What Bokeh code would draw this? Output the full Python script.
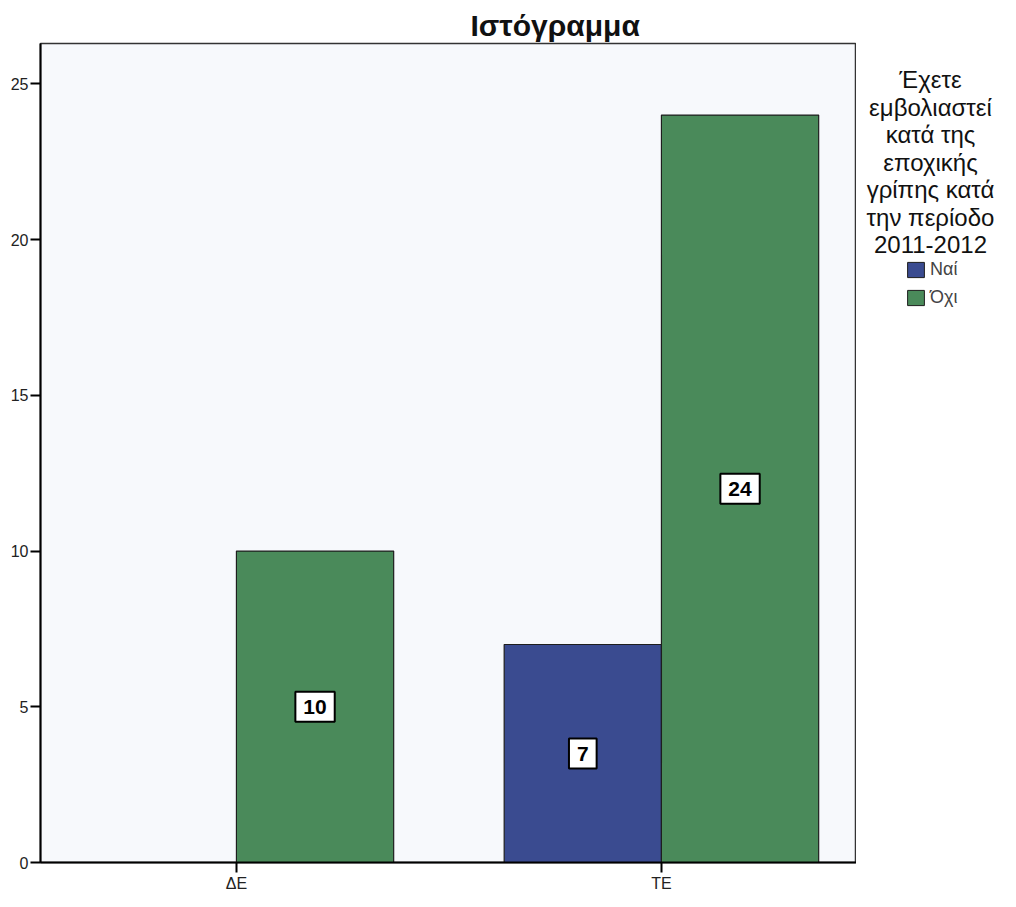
from bokeh.plotting import figure
from bokeh.layouts import row
from bokeh.models import (ColumnDataSource, Label, Legend, LegendItem, Plot, VBar,
                          FixedTicker, Range1d, Title)
from bokeh.transform import dodge
from bokeh.embed import file_html
from bokeh.resources import INLINE

# ---- data ----
categories = ["ΔΕ", "ΤΕ"]
series = ["Ναί", "Όχι"]
nai = [0, 7]
oxi = [10, 24]
y_ticks = [0, 5, 10, 15, 20, 25]
title_text = "Ιστόγραμμα"
legend_title_lines = ["Έχετε", "εμβολιαστεί", "κατά της", "εποχικής",
                      "γρίπης κατά", "την περίοδο", "2011-2012"]

# ---- style ----
colors = ["#3a4b90", "#4a8a5a"]
FONT = "Liberation Sans"
BAR_W = 0.37

# frame geometry (page pixels)
FRAME_L, FRAME_R, FRAME_T, FRAME_B = 48, 864, 51, 870
X_START, X_END = -0.461, 1.459
Y_START, Y_END = 0, 26.3
TOTAL_H = 898
SIDE_W = 144
MB_TOP = FRAME_T - 8
MB_BOTTOM = TOTAL_H - (FRAME_B - 8)

idx = list(range(len(categories)))
src = ColumnDataSource(dict(x=idx, nai=nai, oxi=oxi))

p = figure(frame_width=FRAME_R - FRAME_L, frame_height=FRAME_B - FRAME_T,
           x_range=Range1d(X_START, X_END), y_range=Range1d(Y_START, Y_END),
           output_backend="svg", toolbar_location=None,
           min_border_left=FRAME_L - 8, min_border_top=MB_TOP,
           min_border_right=0, min_border_bottom=MB_BOTTOM,
           background_fill_color="#f7f9fc", border_fill_color="white")
p.outline_line_color = "#333333"
p.outline_line_width = 1.5
p.grid.visible = False

p.title = Title(text=title_text, align="left", offset=478 - FRAME_L,
                text_font=FONT, text_font_size="30px", text_font_style="bold",
                text_color="#111111", standoff=3)

r_nai = p.vbar(x=dodge("x", -BAR_W / 2), top="nai", bottom=0, width=BAR_W, source=src,
               fill_color=colors[0], line_color="#1e1e1e", line_width=1.2)
r_oxi = p.vbar(x=dodge("x", BAR_W / 2), top="oxi", bottom=0, width=BAR_W, source=src,
               fill_color=colors[1], line_color="#1e1e1e", line_width=1.2)

# value labels in white boxes
for vals, off in ((nai, -BAR_W / 2), (oxi, BAR_W / 2)):
    for i, v in zip(idx, vals):
        if v == 0:
            continue
        p.add_layout(Label(x=i + off, y=v / 2, text=str(v),
                           text_align="center", text_baseline="middle",
                           text_font=FONT, text_font_size="21px",
                           text_font_style="bold", text_color="black",
                           background_fill_color="white", border_line_color="black",
                           border_line_width=2, padding=8))

# axes
p.xaxis.ticker = FixedTicker(ticks=idx)
p.xaxis.major_label_overrides = {i: c for i, c in zip(idx, categories)}
p.yaxis.ticker = FixedTicker(ticks=y_ticks)
for ax in (p.xaxis, p.yaxis):
    ax.axis_line_color = "black"
    ax.axis_line_width = 2
    ax.major_tick_line_color = "black"
    ax.major_tick_line_width = 2
    ax.major_tick_out = 10
    ax.major_tick_in = 0
    ax.minor_tick_line_color = None
    ax.major_label_text_font = FONT
    ax.major_label_text_font_size = "16px"
    ax.major_label_text_color = "#222222"
    ax.major_label_standoff = 2

# ---- side panel with the legend; its frame matches the main frame vertically,
# data coordinates = page pixels (y downward) ----
side = Plot(frame_width=SIDE_W, frame_height=FRAME_B - FRAME_T,
            x_range=Range1d(FRAME_R, FRAME_R + SIDE_W),
            y_range=Range1d(FRAME_B, FRAME_T),
            title=None, toolbar_location=None, output_backend="svg",
            min_border_left=0, min_border_right=0,
            min_border_top=MB_TOP, min_border_bottom=MB_BOTTOM,
            outline_line_color=None,
            background_fill_color="white", border_fill_color="white")

for i, line in enumerate(legend_title_lines):
    side.add_layout(Label(x=938, y=87 + i * 27.5, text=line,
                          text_align="center", text_baseline="alphabetic",
                          text_font=FONT, text_font_size="24px", text_color="#111111"))

nan = float("nan")
proxy = ColumnDataSource(dict(x=[nan], top=[nan]))
s_nai = side.add_glyph(proxy, VBar(x="x", top="top", width=1, fill_color=colors[0],
                                   line_color="#1e1e1e", line_width=1))
s_oxi = side.add_glyph(proxy, VBar(x="x", top="top", width=1, fill_color=colors[1],
                                   line_color="#1e1e1e", line_width=1))

legend = Legend(items=[LegendItem(label=series[0], renderers=[s_nai]),
                       LegendItem(label=series[1], renderers=[s_oxi])],
                location=(913 - FRAME_R, FRAME_B - 316),
                padding=0, margin=0, spacing=7,
                glyph_width=21, glyph_height=19, label_height=19,
                label_standoff=4,
                label_text_font=FONT, label_text_font_size="18px",
                background_fill_alpha=0, border_line_alpha=0)
side.add_layout(legend, "center")

layout = row(p, side, spacing=0)
open("out.html", "w").write(file_html(layout, INLINE))
